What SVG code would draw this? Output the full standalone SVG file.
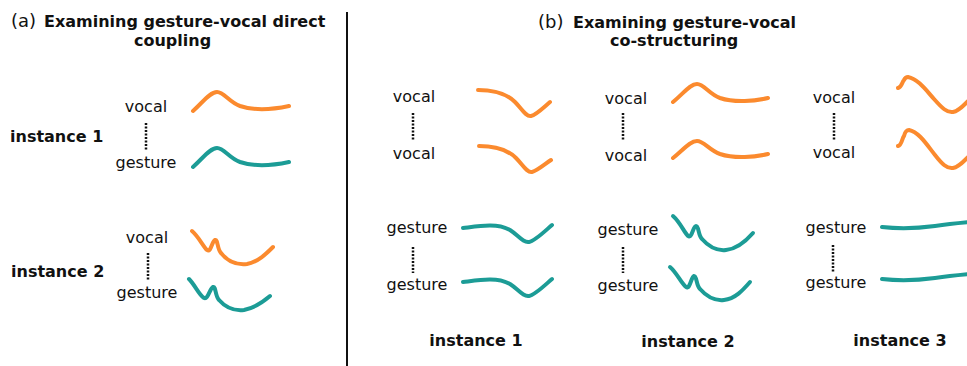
<svg xmlns="http://www.w3.org/2000/svg" width="967" height="366" viewBox="0 0 967 366">
<style>
text{font-family:"DejaVu Sans","Verdana",sans-serif;fill:#111}
.lbl{font-size:16px;text-anchor:middle}
.bold{font-size:16px;font-weight:bold}
.inst{font-size:16px;font-weight:bold;text-anchor:middle}
.par{font-size:18px}
.dot{stroke:#111;stroke-width:2.5;stroke-dasharray:2 1.5;fill:none}
.or{stroke:#FB8A2E;stroke-width:4;fill:none;stroke-linecap:round;stroke-linejoin:round}
.te{stroke:#1C9C96;stroke-width:4;fill:none;stroke-linecap:round;stroke-linejoin:round}
</style>
<rect width="967" height="366" fill="#fff"/>
<g id="divider"><line x1="347" y1="12" x2="347" y2="366" stroke="#111" stroke-width="2"/></g>
<g id="title-a">
<text x="11" y="27"><tspan class="par">(a)</tspan><tspan class="bold" x="44">Examining gesture-vocal direct</tspan></text>
<text class="bold" x="134" y="46">coupling</text>
</g>
<g id="title-b">
<text x="538" y="28"><tspan class="par">(b)</tspan><tspan class="bold" x="573">Examining gesture-vocal</tspan></text>
<text class="bold" x="610" y="46">co-structuring</text>
</g>
<g id="a-instance1">
<text class="bold" x="10" y="142">instance 1</text>
<text class="lbl" x="146" y="112">vocal</text>
<text class="lbl" x="146" y="168">gesture</text>
<path class="or" d="M193,111 C203,102 210,92 217,92 C224,92 229,102 240,106 C255,111 275,109 289,106"/>
<path class="te" d="M193,167 C203,158 210,148 217,148 C224,148 229,158 240,162 C255,167 275,165 289,162"/>
</g>
<g id="a-instance2">
<text class="bold" x="11" y="277">instance 2</text>
<text class="lbl" x="147" y="243">vocal</text>
<text class="lbl" x="147" y="298">gesture</text>
<path class="or" d="M192,231 C198,236 203,246 207,250 C211,253 212,241 215,240 C218,239 217,249 221,253 C228,262 238,265 247,264 C258,262 266,254 273,247"/>
<path class="te" d="M189,279 C195,285 199,295 204,298 C208,300 210,288 213,287 C216,286 215,296 219,300 C226,308 235,311 244,310 C254,308 263,302 270,296"/>
</g>
<g id="b-instance1">
<text class="lbl" x="414" y="102">vocal</text>
<text class="lbl" x="414" y="159">vocal</text>
<text class="lbl" x="417" y="233">gesture</text>
<text class="lbl" x="417" y="290">gesture</text>
<text class="inst" x="476" y="346">instance 1</text>
<path class="or" d="M478,90 C495,90 507,94 515,102 C522,109 526,117 531,116 C536,115 544,107 550,102"/>
<path class="or" d="M479,146 C496,146 508,150 516,158 C523,165 527,173 532,172 C537,171 545,164 551,160"/>
<path class="te" d="M463,228 C480,226 497,223 510,230 C518,235 523,243 529,242 C535,241 545,231 552,225"/>
<path class="te" d="M463,282 C480,280 497,277 510,284 C518,289 523,297 529,296 C535,295 545,285 552,279"/>
</g>
<g id="b-instance2">
<text class="lbl" x="626" y="104">vocal</text>
<text class="lbl" x="626" y="161">vocal</text>
<text class="lbl" x="628" y="235">gesture</text>
<text class="lbl" x="628" y="291">gesture</text>
<text class="inst" x="688" y="347">instance 2</text>
<path class="or" d="M673,102 C683,94 690,84 697,84 C704,84 709,94 720,98 C735,103 755,101 768,98"/>
<path class="or" d="M673,158 C683,150 690,141 697,141 C704,141 709,150 720,154 C735,159 755,157 768,154"/>
<path class="te" d="M673,216 C680,222 684,232 688,236 C692,239 693,226 696,226 C699,226 698,235 702,239 C709,247 717,251 726,250 C737,249 746,241 753,233"/>
<path class="te" d="M670,267 C677,273 681,283 686,287 C690,290 691,277 694,276 C697,276 696,285 700,289 C707,297 715,301 724,300 C735,299 743,290 750,282"/>
</g>
<g id="b-instance3">
<text class="lbl" x="834" y="103">vocal</text>
<text class="lbl" x="834" y="158">vocal</text>
<text class="lbl" x="836" y="233">gesture</text>
<text class="lbl" x="836" y="288">gesture</text>
<text class="inst" x="900" y="346">instance 3</text>
<path class="or" d="M898,88 C902,87 902,82 904,80 C905,78 906,77 908,77 C918,79 926,90 934,99 C942,108 947,113 953,112 C959,111 964,105 969,100"/>
<path class="or" d="M898,146 C902,145 902,138 904,136 C905,132 906,130 909,130 C919,132 927,145 935,155 C942,164 947,169 953,168 C959,167 964,161 969,156"/>
<path class="te" d="M882,227 C900,229 920,228 935,226 C948,224 958,223 969,222"/>
<path class="te" d="M882,279 C900,281 920,280 935,278 C948,276 958,275 969,274"/>
</g>
<g id="connectors">
<line class="dot" x1="146" y1="123" x2="146" y2="150"/>
<line class="dot" x1="148" y1="253" x2="148" y2="280"/>
<line class="dot" x1="413" y1="113" x2="413" y2="141"/>
<line class="dot" x1="413" y1="247" x2="413" y2="273"/>
<line class="dot" x1="623" y1="113" x2="623" y2="141"/>
<line class="dot" x1="623" y1="247" x2="623" y2="273"/>
<line class="dot" x1="834" y1="113" x2="834" y2="140"/>
<line class="dot" x1="833" y1="245" x2="833" y2="272"/>
</g>
</svg>
